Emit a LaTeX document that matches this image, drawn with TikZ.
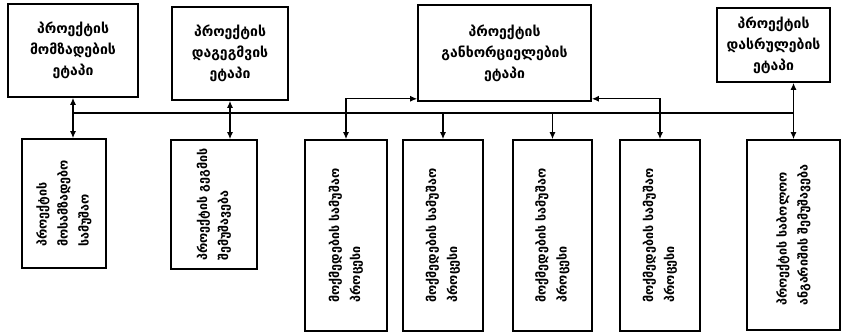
\documentclass[tikz,border=0pt]{standalone}
\usepackage{fontspec}
\newfontfamily\geofont{DejaVu Sans}
\usetikzlibrary{arrows.meta}

\begin{document}
\begin{tikzpicture}[x=1pt,y=-1pt,
    stagebox/.style={draw,line width=1.6pt,align=center,inner sep=2pt,
      font=\geofont\bfseries\fontsize{14}{21}\selectfont},
    workbox/.style={draw,line width=1.6pt,align=left,rotate=90,inner sep=2pt,
      font=\geofont\bfseries\fontsize{12.5}{21}\selectfont},
    link/.style={line width=1.3pt},
    onetip/.style={-{Latex[length=7pt,width=6pt]}},
    twotip/.style={{Latex[length=7pt,width=6pt]}-{Latex[length=7pt,width=6pt]}}]
  \useasboundingbox (0,0) rectangle (846,333);

  % stages
  \node[stagebox,minimum width=130pt,minimum height=93pt] (prep) at (73,50.5)
    {პროექტის\\მომზადების\\ეტაპი};
  \node[stagebox,minimum width=116pt,minimum height=93pt] (plan) at (230,53.5)
    {პროექტის\\დაგეგმვის\\ეტაპი};
  \node[stagebox,minimum width=173pt,minimum height=96pt] (impl) at (504.5,53)
    {პროექტის\\განხორციელების\\ეტაპი};
  \node[stagebox,minimum width=113pt,minimum height=74pt] (close) at (773.5,45)
    {პროექტის\\დასრულების\\ეტაპი};

  % works under the stages
  \node[workbox,minimum width=129pt,minimum height=84pt] (w1) at (64,203.5)
    {პროექტის\\მოსამზადებო\\სამუშაო};
  \node[workbox,minimum width=129pt,minimum height=86pt] (w2) at (214,204.5)
    {პროექტის გეგმის\\შემუშავება};
  \node[workbox,minimum width=191pt,minimum height=82pt] (w3) at (346,235.5)
    {მოქმედების სამუშაო\\პროცესი};
  \node[workbox,minimum width=191pt,minimum height=80pt] (w4) at (443,235.5)
    {მოქმედების სამუშაო\\პროცესი};
  \node[workbox,minimum width=191pt,minimum height=79pt] (w5) at (552.5,235.5)
    {მოქმედების სამუშაო\\პროცესი};
  \node[workbox,minimum width=191pt,minimum height=80pt] (w6) at (660,235.5)
    {მოქმედების სამუშაო\\პროცესი};
  \node[workbox,minimum width=190pt,minimum height=93pt] (w7) at (793.5,235)
    {პროექტის საბოლოო\\ანგარიშის შემუშავება};

  % common line
  \coordinate (bus) at (0,113);
  \draw[link] (bus -| prep.south) -- (bus -| w7.east);

  \draw[link,twotip] (prep.south) -- (prep.south |- w1.east);
  \draw[link,twotip] (plan.south) -- (plan.south |- w2.east);
  \draw[link,twotip] (w7.east) -- (w7.east |- close.south);
  \draw[link,twotip] ([yshift=3pt]impl.south west) -| (w3.east);
  \draw[link,twotip] ([yshift=3pt]impl.south east) -| (w6.east);
  \draw[link,onetip] (bus -| w4.east) -- (w4.east);
  \draw[link,onetip] (bus -| w5.east) -- (w5.east);
\end{tikzpicture}
\end{document}
